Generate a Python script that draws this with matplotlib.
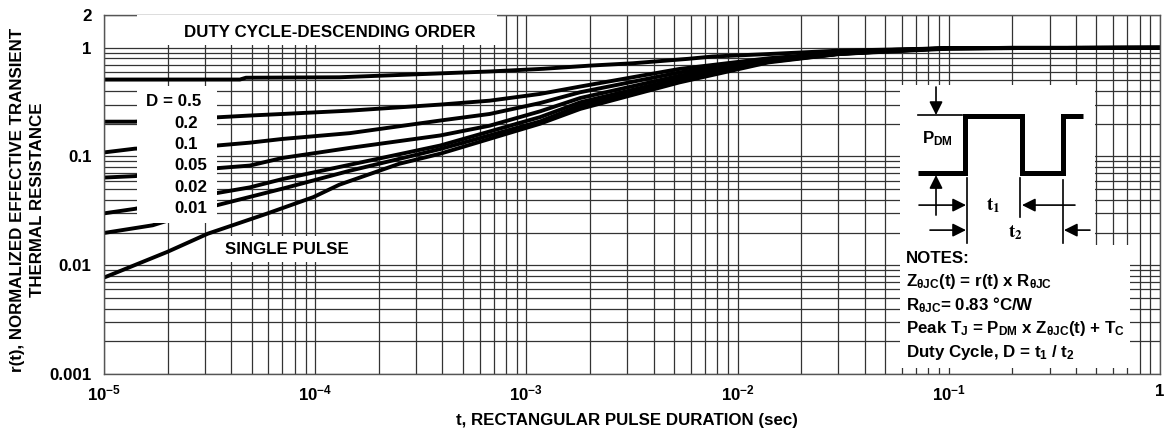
import matplotlib.pyplot as plt
from matplotlib.patches import Rectangle
from matplotlib.ticker import FixedLocator, NullFormatter

plt.rcParams["font.family"] = "Liberation Sans"
plt.rcParams["font.weight"] = "bold"
plt.rcParams["mathtext.fontset"] = "custom"
plt.rcParams["mathtext.rm"] = "Liberation Sans:bold"
plt.rcParams["mathtext.bf"] = "Liberation Sans:bold"
plt.rcParams["mathtext.it"] = "Liberation Sans:bold:italic"
plt.rcParams["mathtext.sf"] = "Liberation Sans"

# transient thermal response, r(t) vs pulse width t (sec)
t_d05 = [1e-5, 4.4e-5, 4.7e-5, 1.3e-4, 3.4e-4, 6.7e-4, 1.2e-3, 2.0e-3, 3.2e-3, 5.8e-3, 7.6e-3, 1.4e-2, 3.0e-2, 5.7e-2, 0.1, 1.0]
r_d05 = [0.51, 0.51, 0.53, 0.535, 0.575, 0.605, 0.64, 0.685, 0.72, 0.79, 0.83, 0.875, 0.94, 0.965, 0.99, 1.0]

t_d02 = [1e-5, 1.4e-5, 3.4e-5, 4.9e-5, 7e-5, 1.46e-4, 3.9e-4, 6.7e-4, 1.16e-3, 1.8e-3, 5.3e-3, 1.4e-2, 3.0e-2, 5.7e-2, 0.1, 1.0]
r_d02 = [0.209, 0.209, 0.229, 0.238, 0.246, 0.264, 0.30, 0.326, 0.376, 0.44, 0.638, 0.80, 0.90, 0.96, 0.99, 1.0]

t_d01 = [1e-5, 1.4e-5, 3.4e-5, 4.9e-5, 7e-5, 1.46e-4, 3.9e-4, 6.7e-4, 1.16e-3, 1.8e-3, 5.3e-3, 1.4e-2, 3.0e-2, 5.7e-2, 0.1, 1.0]
r_d01 = [0.109, 0.118, 0.126, 0.134, 0.145, 0.164, 0.214, 0.246, 0.31, 0.39, 0.593, 0.78, 0.89, 0.95, 0.99, 1.0]

t_d005 = [1e-5, 1.4e-5, 3.4e-5, 4.9e-5, 7e-5, 1.46e-4, 3.9e-4, 6.7e-4, 1.16e-3, 1.8e-3, 5.3e-3, 1.4e-2, 3.0e-2, 5.7e-2, 0.1, 1.0]
r_d005 = [0.064, 0.066, 0.078, 0.0825, 0.097, 0.12, 0.156, 0.192, 0.26, 0.345, 0.553, 0.76, 0.88, 0.95, 0.99, 1.0]

t_d002 = [1e-5, 1.4e-5, 3.4e-5, 4.9e-5, 7e-5, 1.46e-4, 3.9e-4, 1.16e-3, 1.8e-3, 5.3e-3, 1.4e-2, 3.0e-2, 5.7e-2, 0.1, 1.0]
r_d002 = [0.030, 0.033, 0.046, 0.052, 0.062, 0.084, 0.126, 0.23, 0.315, 0.52, 0.75, 0.88, 0.94, 0.99, 1.0]

t_d001 = [1e-5, 1.7e-5, 3.4e-5, 7e-5, 1.46e-4, 3.9e-4, 1.16e-3, 1.8e-3, 5.3e-3, 1.4e-2, 3.0e-2, 5.7e-2, 0.1, 1.0]
r_d001 = [0.0198, 0.0233, 0.0355, 0.0506, 0.074, 0.117, 0.21, 0.294, 0.50, 0.745, 0.875, 0.94, 0.99, 1.0]

t_single = [1e-5, 2e-5, 3.1e-5, 5.9e-5, 9.8e-5, 1.3e-4, 2.5e-4, 3.9e-4, 1.16e-3, 1.8e-3, 5.3e-3, 1.4e-2, 3.0e-2, 5.7e-2, 0.1, 0.2, 1.0]
r_single = [0.0077, 0.0133, 0.0195, 0.0298, 0.0423, 0.055, 0.0857, 0.106, 0.2, 0.274, 0.48, 0.733, 0.875, 0.93, 0.98, 1.0, 1.0]

curves = [
    (t_d05, r_d05), (t_d02, r_d02), (t_d01, r_d01), (t_d005, r_d005),
    (t_d002, r_d002), (t_d001, r_d001), (t_single, r_single),
]
duty_labels = ["D = 0.5", "0.2", "0.1", "0.05", "0.02", "0.01"]

x_major = [1e-5, 1e-4, 1e-3, 1e-2, 1e-1, 1.0]
x_labels = [r"10$^{\mathrm{-5}}$", r"10$^{\mathrm{-4}}$", r"10$^{\mathrm{-3}}$",
            r"10$^{\mathrm{-2}}$", r"10$^{\mathrm{-1}}$", "1"]
y_major = [0.001, 0.01, 0.1, 1.0, 2.0]
y_labels = ["0.001", "0.01", "0.1", "1", "2"]

notes = [
    "NOTES:",
    r"Z$_{\mathsf{\theta JC}}$(t) = r(t) x R$_{\mathsf{\theta JC}}$",
    r"R$_{\mathsf{\theta JC}}$= 0.83 °C/W",
    r"Peak T$_{\mathrm{J}}$ = P$_{\mathrm{DM}}$ x Z$_{\mathsf{\theta JC}}$(t) + T$_{\mathrm{C}}$",
    r"Duty Cycle, D = t$_{\mathrm{1}}$ / t$_{\mathrm{2}}$",
]

FS = 12.2
W, H = 1166, 442

fig = plt.figure(figsize=(W / 100, H / 100), dpi=100)
ax = fig.add_axes([104 / W, 68 / H, 1056 / W, 359 / H])
ax.set_xscale("log")
ax.set_yscale("log")
ax.set_xlim(1e-5, 1.0)
ax.set_ylim(1e-3, 2.0)

minor = [m * 10.0 ** e for e in range(-5, 0) for m in range(2, 10)]
ax.xaxis.set_major_locator(FixedLocator(x_major))
ax.xaxis.set_minor_locator(FixedLocator(minor))
ax.set_xticklabels(x_labels, fontsize=FS)
ax.yaxis.set_major_locator(FixedLocator(y_major))
ax.yaxis.set_minor_locator(FixedLocator([m * 10.0 ** e for e in range(-3, 0) for m in range(2, 10)]))
ax.set_yticklabels(y_labels, fontsize=FS)
ax.xaxis.set_minor_formatter(NullFormatter())
ax.yaxis.set_minor_formatter(NullFormatter())
ax.tick_params(which="both", length=0)
ax.tick_params(axis="x", pad=7)
ax.tick_params(axis="y", pad=9)
ax.grid(which="both", color="#333333", lw=0.9)
ax.set_axisbelow(True)
for s in ax.spines.values():
    s.set_color("#555555")
    s.set_linewidth(1.0)

for t, r in curves:
    ax.plot(t, r, color="black", lw=2.8, solid_joinstyle="round", zorder=2)


def white_box(x0, y0, x1, y1):
    ax.add_patch(Rectangle((x0, y0), x1 - x0, y1 - y0, transform=ax.transAxes,
                           facecolor="white", edgecolor="none", zorder=3))


# cut-outs for the annotations
white_box(0.031, 0.916, 0.372, 1.0)
white_box(0.031, 0.421, 0.107, 0.802)
white_box(0.754, 0.359, 0.9384, 0.805)
white_box(0.754, 0.017, 0.9716, 0.359)

ax.text(0.0758, 0.950, "DUTY CYCLE-DESCENDING ORDER", transform=ax.transAxes,
        fontsize=FS, va="center", zorder=4)
ax.text(0.0398, 0.7585, duty_labels[0], transform=ax.transAxes, fontsize=FS, va="center", zorder=4)
for i, lab in enumerate(duty_labels[1:]):
    ax.text(0.0663, 0.699 - i * 0.0597, lab, transform=ax.transAxes, fontsize=FS,
            va="center", zorder=4)
ax.text(0.1146, 0.348, "SINGLE PULSE", transform=ax.transAxes, fontsize=FS, va="center",
        zorder=4, bbox=dict(facecolor="white", edgecolor="none", pad=4))

for i, line in enumerate(notes):
    ax.text(0.7595, 0.323 - i * 0.0655, line, transform=ax.transAxes, fontsize=FS,
            va="center", zorder=4)

# pulse train sketch
ins = ax.inset_axes([0.7557, 0.359, 0.1827, 0.446], zorder=5)
ins.set_xlim(0, 193)
ins.set_ylim(160, 0)
ins.set_axis_off()
ins.plot([16, 63, 63, 120, 120, 161, 161, 181], [88, 88, 31, 31, 88, 88, 31, 31],
         color="black", lw=3.6, solid_joinstyle="miter", solid_capstyle="butt")
ins.plot([16, 60], [30, 30], color="black", lw=1.2)
for x, y0, y1 in [(65, 93, 158), (118, 93, 132), (161, 95, 158)]:
    ins.plot([x, x], [y0, y1], color="black", lw=1.2)
arrow = dict(arrowstyle="-|>", color="black", lw=1.2, mutation_scale=20, shrinkA=0, shrinkB=0)
for head, tail in [((34, 30), (34, 2)), ((34, 90), (34, 130)),
                   ((64, 120), (17, 120)), ((120, 120), (173, 120)),
                   ((64, 145), (28, 145)), ((162, 145), (188, 145))]:
    ins.annotate("", xy=head, xytext=tail, arrowprops=arrow)
ins.text(20, 54, r"P$_{\mathrm{DM}}$", fontsize=FS, va="center")
ins.text(91, 121, r"$\mathbf{t_1}$", math_fontfamily="stix", fontsize=13.5, ha="center", va="center")
ins.text(113, 148, r"$\mathbf{t_2}$", math_fontfamily="stix", fontsize=13.5, ha="center", va="center")

fig.text(0.0235, 0.547, "r(t), NORMALIZED EFFECTIVE TRANSIENT\nTHERMAL RESISTANCE",
         rotation=90, ha="center", va="center", multialignment="center",
         fontsize=FS, linespacing=1.4)
fig.text(627 / W, 1 - 420 / H, "t, RECTANGULAR PULSE DURATION (sec)", ha="center",
         va="center", fontsize=FS)

fig.savefig("out.png", dpi=100)
